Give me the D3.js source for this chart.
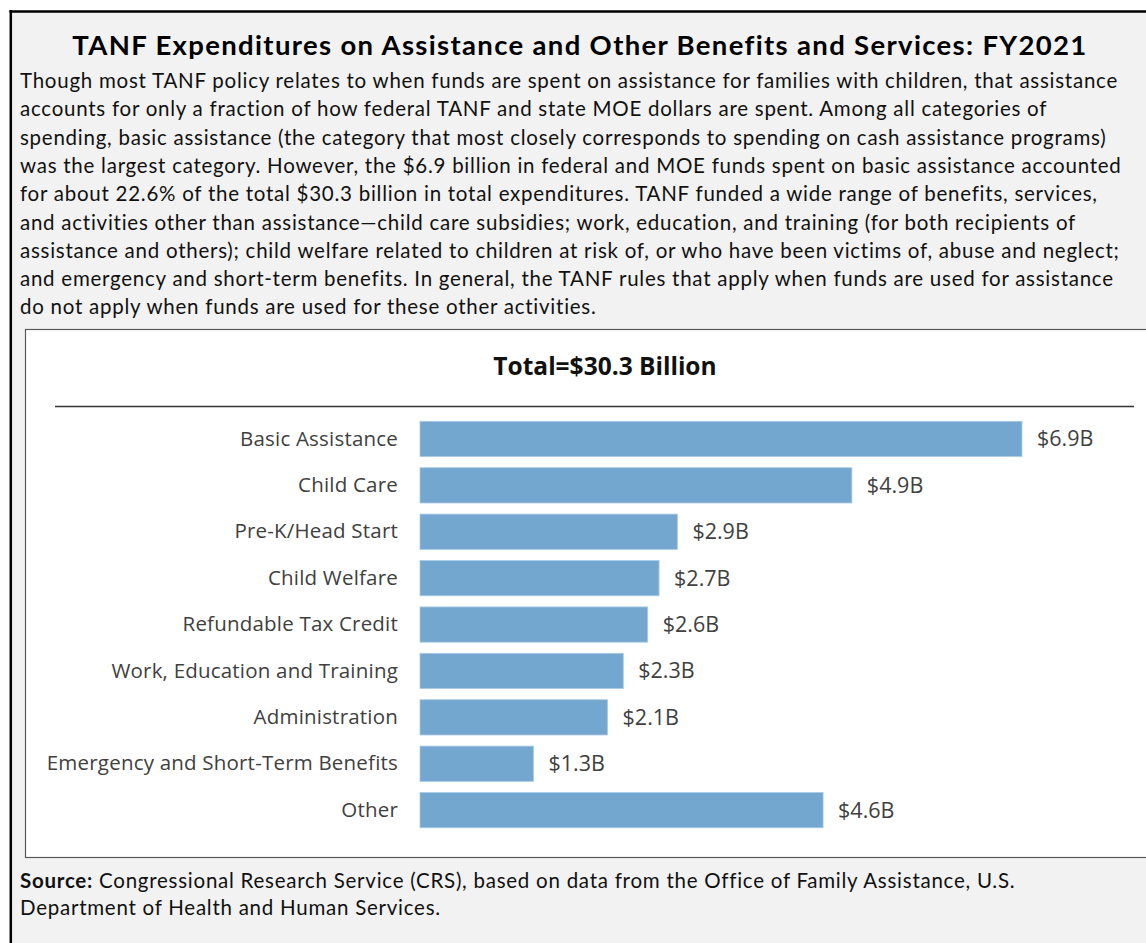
<!DOCTYPE html>
<html>
<head>
<meta charset="utf-8">
<script src="https://cdn.jsdelivr.net/npm/d3@7"></script>
<style>
  body { margin: 0; background: #fff; }
  svg { display: block; }
</style>
</head>
<body>
<div id="chart"></div>
<script>
'use strict';
// chart data
const categories = [
  'Basic Assistance',
  'Child Care',
  'Pre-K/Head Start',
  'Child Welfare',
  'Refundable Tax Credit',
  'Work, Education and Training',
  'Administration',
  'Emergency and Short-Term Benefits',
  'Other'
]
const values = [6.9, 4.95, 2.95, 2.74, 2.61, 2.33, 2.15, 1.3, 4.62]
const valueLabels = ['$6.9B', '$4.9B', '$2.9B', '$2.7B', '$2.6B', '$2.3B', '$2.1B', '$1.3B', '$4.6B']
const chartTitle = 'Total=$30.3 Billion'
const pageTitle = 'TANF Expenditures on Assistance and Other Benefits and Services: FY2021'
const bodyLines = [
  'Though most TANF policy relates to when funds are spent on assistance for families with children, that assistance',
  'accounts for only a fraction of how federal TANF and state MOE dollars are spent. Among all categories of',
  'spending, basic assistance (the category that most closely corresponds to spending on cash assistance programs)',
  'was the largest category. However, the $6.9 billion in federal and MOE funds spent on basic assistance accounted',
  'for about 22.6% of the total $30.3 billion in total expenditures. TANF funded a wide range of benefits, services,',
  'and activities other than assistance\u2014child care subsidies; work, education, and training (for both recipients of',
  'assistance and others); child welfare related to children at risk of, or who have been victims of, abuse and neglect;',
  'and emergency and short-term benefits. In general, the TANF rules that apply when funds are used for assistance',
  'do not apply when funds are used for these other activities.'
]
const sourceLines = [
  ['Source:', ' Congressional Research Service (CRS), based on data from the Office of Family Assistance, U.S.'],
  ['', 'Department of Health and Human Services.']
]

const W = 1146, H = 943
const gill = 'Lato, "Open Sans", sans-serif'
const cal = '"Open Sans", "Noto Sans", sans-serif'

const svg = d3.select('#chart').append('svg')
  .attr('width', W)
  .attr('height', H)

// widen text to a target width with letter spacing (Gill Sans runs wider than Lato)
function fitSpacing(sel, target) {
  const node = sel.node()
  const len = node.getComputedTextLength()
  const n = node.textContent.length
  return Math.max(0, (target - len) / n)
}

// outer gray panel with heavy top/left border
svg.append('rect')
  .attr('x', 11).attr('y', 12)
  .attr('width', W).attr('height', H)
  .attr('fill', '#f2f2f2')
svg.append('line')
  .attr('x1', 9.5).attr('x2', W).attr('y1', 11.5).attr('y2', 11.5)
  .attr('stroke', '#000').attr('stroke-width', 2.5)
svg.append('line')
  .attr('x1', 10.8).attr('x2', 10.8).attr('y1', 10).attr('y2', H)
  .attr('stroke', '#000').attr('stroke-width', 2.5)

// page title
const title = svg.append('text')
  .attr('x', 580).attr('y', 55)
  .attr('text-anchor', 'middle')
  .style('font-family', gill)
  .style('font-weight', 700)
  .style('font-size', '27.5px')
  .attr('fill', '#000')
  .text(pageTitle)
title.style('letter-spacing', fitSpacing(title, 1015) + 'px')

// body paragraph
const body = svg.append('g').selectAll('text')
  .data(bodyLines)
  .join('text')
  .attr('x', 20)
  .attr('y', (d, i) => 88 + i * 28.3)
  .style('font-family', gill)
  .style('font-size', '20.5px')
  .attr('fill', '#111')
  .text(d => d)
const bodySpacing = fitSpacing(d3.select(body.nodes()[0]), 1098)
body.style('letter-spacing', bodySpacing + 'px')

// white chart box
svg.append('rect')
  .attr('x', 25.5).attr('y', 329.5)
  .attr('width', 1130).attr('height', 528)
  .attr('fill', '#fff')
  .attr('stroke', '#595959')
  .attr('stroke-width', 1.2)

svg.append('text')
  .attr('x', 605).attr('y', 375)
  .attr('text-anchor', 'middle')
  .style('font-family', cal)
  .style('font-weight', 700)
  .style('font-size', '24.5px')
  .attr('fill', '#111')
  .text(chartTitle)

svg.append('line')
  .attr('x1', 55).attr('x2', 1134)
  .attr('y1', 406.5).attr('y2', 406.5)
  .attr('stroke', '#333').attr('stroke-width', 1.3)

// scales
const x = d3.scaleLinear().domain([0, 6.9]).range([420, 1022])
const y = d3.scaleBand().domain(categories).range([415.75, 833.35])
  .paddingInner(0.24).paddingOuter(0.12)

const rows = categories.map((c, i) => ({ cat: c, val: values[i], label: valueLabels[i] }))

svg.append('g').selectAll('rect')
  .data(rows)
  .join('rect')
  .attr('x', x(0))
  .attr('y', d => y(d.cat))
  .attr('width', d => x(d.val) - x(0))
  .attr('height', y.bandwidth())
  .attr('fill', '#73a7cf')
  .attr('stroke', '#a9cbe6')
  .attr('stroke-width', 0.8)

// category axis (no line, no ticks)
const yAxis = svg.append('g')
  .attr('transform', `translate(${x(0)},0)`)
  .call(d3.axisLeft(y).tickSize(0).tickPadding(22))
yAxis.select('.domain').remove()
yAxis.selectAll('text')
  .style('font-family', cal)
  .style('font-size', '20.5px')
  .style('letter-spacing', '0.2px')
  .attr('fill', '#404040')

// value labels
svg.append('g').selectAll('text')
  .data(rows)
  .join('text')
  .attr('x', d => x(d.val) + 15)
  .attr('y', d => y(d.cat) + y.bandwidth() / 2)
  .attr('dy', '0.35em')
  .style('font-family', cal)
  .style('font-size', '21.5px')
  .attr('fill', '#404040')
  .text(d => d.label)

// source note
const src = svg.append('g').selectAll('text')
  .data(sourceLines)
  .join('text')
  .attr('x', 20)
  .attr('y', (d, i) => 888 + i * 27)
  .style('font-family', gill)
  .style('font-size', '20.5px')
  .style('letter-spacing', bodySpacing + 'px')
  .attr('fill', '#111')
src.append('tspan').style('font-weight', 700).text(d => d[0])
src.append('tspan').text(d => d[1])
</script>
</body>
</html>
